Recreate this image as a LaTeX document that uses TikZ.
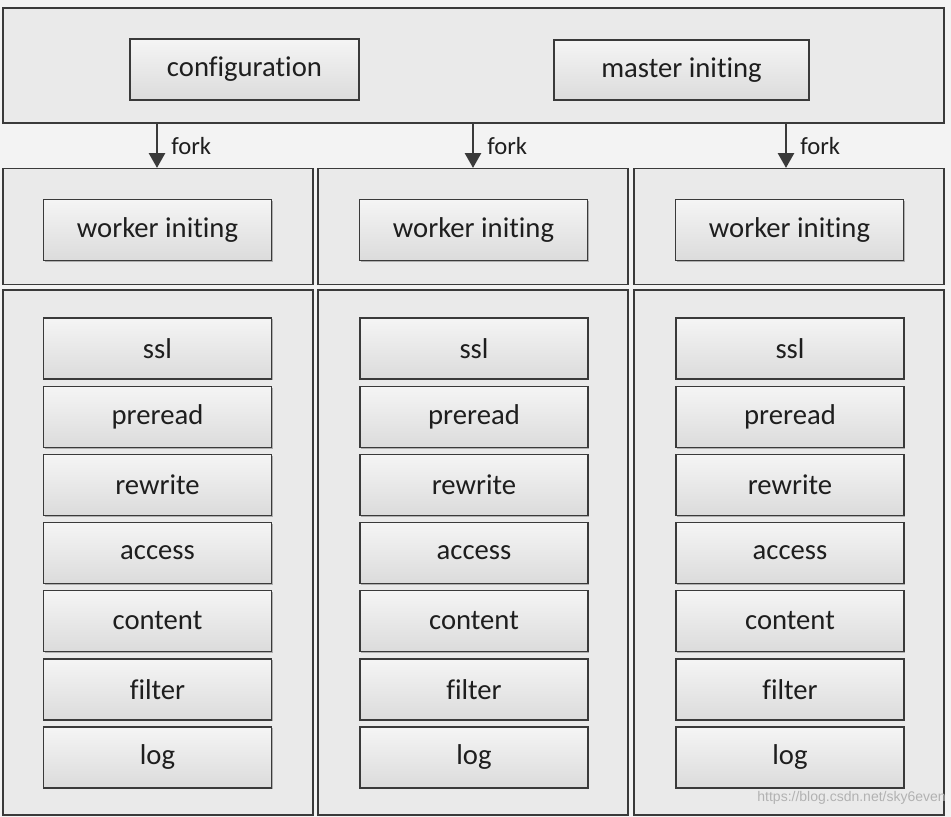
\documentclass[tikz,border=0pt]{standalone}
\usepackage{fontspec}
\setmainfont{Carlito}[Ligatures={NoCommon}]
\newfontfamily\wmfont{Liberation Sans}
\usetikzlibrary{arrows.meta,shadows}
\definecolor{bgc}{HTML}{F3F3F3}
\definecolor{framec}{HTML}{EAEAEA}
\definecolor{linec}{HTML}{3A3A3A}
\definecolor{txtc}{HTML}{1E1E1E}
\tikzset{
  frame/.style={draw=linec, line width=0.9pt, fill=framec, inner sep=0pt, minimum width=310*0.75pt},
  inbox/.style={draw=linec, line width=0.9pt, top color=white!96!black, bottom color=black!14, inner sep=0pt,
    minimum width=228*0.75pt, minimum height=61*0.75pt, font=\fontsize{21.5}{24}\selectfont, text=txtc,
    drop shadow={shadow xshift=0.8pt, shadow yshift=-0.8pt, opacity=0.25, fill=black}},
  forkarrow/.style={draw=linec, line width=1.5pt, -{Triangle[length=11pt,width=12pt]}},
  forklabel/.style={font=\fontsize{18.5}{21}\selectfont, text=txtc, anchor=west, inner sep=0pt},
}
\begin{document}
\begin{tikzpicture}[x=0.75pt,y=-0.75pt]
\fill[bgc] (0,0) rectangle (951,817);
\useasboundingbox (0,0) rectangle (951,817);
% top box
\node[frame, minimum width=941*0.75pt, minimum height=115*0.75pt] (top) at (473.5,65.5) {};
\node[inbox, minimum width=229*0.75pt] (conf) at (244.5,69.5) {configuration};
\node[inbox, minimum width=255*0.75pt, minimum height=60*0.75pt] (master) at (681.5,70) {master initing};
% worker containers
\foreach \i/\cx/\wx in {1/158/157.5, 2/473/473.5, 3/789/789.5} {
  \node[frame, minimum height=116*0.75pt] (wc\i) at (\cx,226.5) {};
  \node[inbox, minimum width=228*0.75pt] (wi\i) at (\wx,230) {worker initing};
  \node[frame, minimum height=525*0.75pt] (pc\i) at (\cx,552.5) {};
}
% phases
\foreach \i/\px in {1/157.5, 2/474, 3/790} {
  \node[inbox] (ssl\i) at (\px,348.5) {ssl};
  \node[inbox] (preread\i) at (\px,417) {preread};
  \node[inbox] (rewrite\i) at (\px,485) {rewrite};
  \node[inbox] (access\i) at (\px,553) {access};
  \node[inbox] (content\i) at (\px,621) {content};
  \node[inbox] (filter\i) at (\px,689.5) {filter};
  \node[inbox] (log\i) at (\px,757.5) {log};
}
% fork arrows
\foreach \i/\fx in {1/157, 2/473, 3/786} {
  \coordinate (f\i) at (\fx,123);
  \draw[forkarrow] (f\i) -- (f\i |- wc\i.north);
  \node[forklabel] (fl\i) at (\fx+14,146) {fork};
}
% watermark
\node[anchor=east, inner sep=0pt, font=\wmfont\fontsize{10.5}{12}\selectfont, text=black!30] (wm) at (946,798) {https://blog.csdn.net/sky6even};
\end{tikzpicture}
\end{document}
